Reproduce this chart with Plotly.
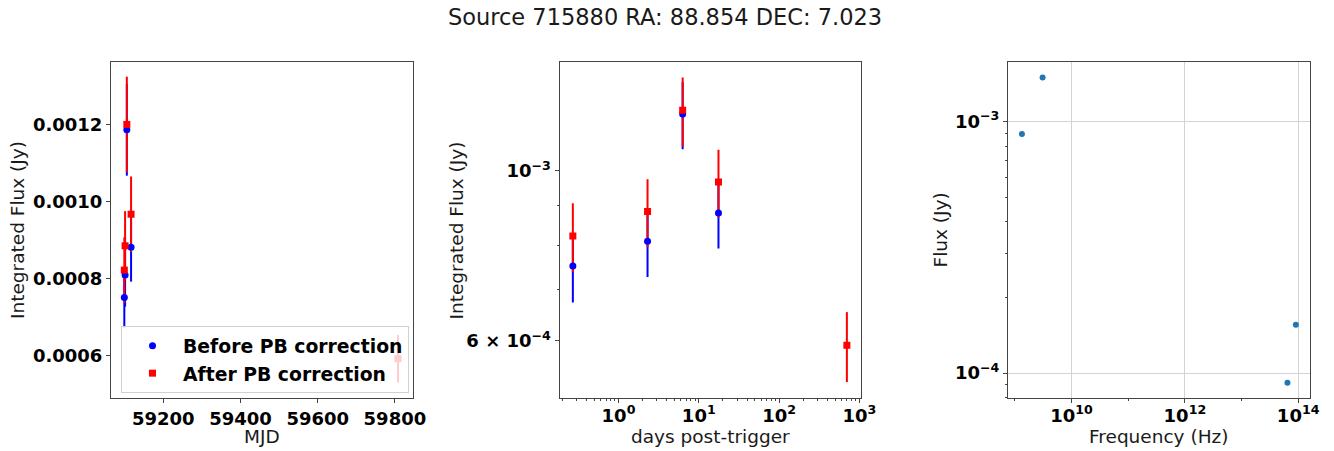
import plotly.graph_objects as go

# ---------------- data ----------------
title_text = "Source 715880 RA: 88.854 DEC: 7.023"

mjd_before = [59099.0, 59101.0, 59105.5, 59116.5]
days_before = [0.27, 2.30, 6.30, 17.6]
flux_before = [7.51e-4, 8.09e-4, 1.186e-3, 8.81e-4]
err_before = [7.8e-5, 8.2e-5, 1.19e-4, 8.9e-5]

mjd_after = [59099.0, 59101.0, 59105.5, 59116.5, 59808.0]
days_after = [0.27, 2.30, 6.30, 17.6, 700.0]
flux_after = [8.22e-4, 8.85e-4, 1.200e-3, 9.67e-4, 5.92e-4]
err_after = [8.5e-5, 9.0e-5, 1.24e-4, 9.8e-5, 6.2e-5]

freq_hz = [1.33e9, 3.08e9, 6.47e13, 9.1e13]
sed_flux = [8.93e-4, 1.50e-3, 9.15e-5, 1.556e-4]

mjd_ticks = [59200, 59400, 59600, 59800]
lin_flux_ticks = [0.0006, 0.0008, 0.0010, 0.0012]
days_ticks = [1, 10, 100, 1000]
days_ticktext = ["10<sup>0</sup>", "10<sup>1</sup>", "10<sup>2</sup>", "10<sup>3</sup>"]
log_flux_ticks = [6e-4, 1e-3]
log_flux_ticktext = ["6 × 10<sup>−4</sup>", "10<sup>−3</sup>"]
freq_ticks = [1e10, 1e12, 1e14]
freq_ticktext = ["10<sup>10</sup>", "10<sup>12</sup>", "10<sup>14</sup>"]
sed_ticks = [1e-4, 1e-3]
sed_ticktext = ["10<sup>−4</sup>", "10<sup>−3</sup>"]

label_before = "Before PB correction"
label_after = "After PB correction"

# ---------------- layout helpers ----------------
W, H = 1334, 451
FONT = "DejaVu Sans"
BLUE, RED, C0 = "#0000ff", "#ff0000", "#1f77b4"
SPINE = "#444444"


def px_x(p):
    return p / W


def px_y(p):
    return 1 - p / H


ydom = [px_y(398), px_y(62)]
tickfont = dict(family=FONT, size=18, color="black", weight="bold")


def axis(domain, anchor, **kw):
    d = dict(
        domain=domain,
        anchor=anchor,
        automargin=False,
        showline=True,
        mirror=True,
        linecolor=SPINE,
        linewidth=1,
        ticks="outside",
        ticklen=4,
        tickwidth=1,
        tickcolor=SPINE,
        tickfont=tickfont,
        showgrid=False,
        zeroline=False,
        tickmode="array",
    )
    d.update(kw)
    return d


def minor_log(decades_from, decades_to):
    vals = []
    for e in range(decades_from, decades_to + 1):
        for m in range(2, 10):
            vals.append(m * 10.0 ** e)
    return vals


fig = go.Figure()

# ---------- error bars (drawn first, below all markers) ----------
for xs, ys, es, col, xa, ya in [
    (mjd_before, flux_before, err_before, BLUE, "x", "y"),
    (mjd_after, flux_after, err_after, RED, "x", "y"),
    (days_before, flux_before, err_before, BLUE, "x2", "y2"),
    (days_after, flux_after, err_after, RED, "x2", "y2"),
]:
    fig.add_trace(go.Scatter(
        x=xs, y=ys, mode="markers", xaxis=xa, yaxis=ya,
        marker=dict(size=2, color=col, opacity=0),
        error_y=dict(type="data", array=es, visible=True, color=col,
                     thickness=2, width=0),
        showlegend=False, hoverinfo="skip",
    ))

# ---------- markers ----------
for xs, ys, col, sym, name, xa, ya, show, grp in [
    (mjd_before, flux_before, BLUE, "circle", label_before, "x", "y", True, "b"),
    (mjd_after, flux_after, RED, "square", label_after, "x", "y", True, "a"),
    (days_before, flux_before, BLUE, "circle", label_before, "x2", "y2", False, "b"),
    (days_after, flux_after, RED, "square", label_after, "x2", "y2", False, "a"),
]:
    fig.add_trace(go.Scatter(
        x=xs, y=ys, mode="markers", xaxis=xa, yaxis=ya, name=name,
        marker=dict(size=7, color=col, symbol=sym, line=dict(width=0)),
        showlegend=show, legendgroup=grp,
    ))

# ---------- panel 3 : SED ----------
fig.add_trace(go.Scatter(
    x=freq_hz, y=sed_flux, mode="markers", xaxis="x3", yaxis="y3",
    marker=dict(size=6, color=C0, line=dict(width=0)), showlegend=False,
))

fig.update_layout(
    template="none",
    width=W, height=H,
    margin=dict(l=0, r=0, t=0, b=0, autoexpand=False),
    paper_bgcolor="white", plot_bgcolor="white",
    font=dict(family=FONT, color="black"),
    title=dict(text=title_text, x=665 / W, xanchor="center",
               y=px_y(17), yanchor="middle",
               font=dict(family=FONT, size=22.5, color="#1a1a1a")),
    xaxis=axis([px_x(111), px_x(413)], "y",
               range=[59064.5, 59846.9],
               tickvals=mjd_ticks, ticktext=[str(v) for v in mjd_ticks]),
    yaxis=axis(ydom, "x",
               range=[0.00049, 0.001362],
               tickvals=lin_flux_ticks,
               ticktext=[f"{v:.4f}" for v in lin_flux_ticks]),
    xaxis2=axis([px_x(559.5), px_x(861)], "y2", type="log",
                range=[-0.735, 3.021],
                tickvals=days_ticks, ticktext=days_ticktext,
                ticklabelstandoff=-3,
                minor=dict(ticks="outside", ticklen=2, tickcolor=SPINE,
                           tickmode="array", tickvals=minor_log(-1, 2))),
    yaxis2=axis(ydom, "x2", type="log",
                range=[-3.2965, -2.858],
                tickvals=log_flux_ticks, ticktext=log_flux_ticktext,
                minor=dict(ticks="outside", ticklen=2, tickcolor=SPINE,
                           tickmode="array", tickvals=[7e-4, 8e-4, 9e-4])),
    xaxis3=axis([px_x(1008), px_x(1309.5)], "y3", type="log",
                range=[8.878, 14.2],
                tickvals=freq_ticks, ticktext=freq_ticktext,
                ticklabelstandoff=-3,
                showgrid=True, gridcolor="#d3d3d3", gridwidth=1,
                minor=dict(ticks="outside", ticklen=2, tickcolor=SPINE,
                           tickmode="array", tickvals=[1e9, 1e11, 1e13])),
    yaxis3=axis(ydom, "x3", type="log",
                range=[-4.0995, -2.7624],
                tickvals=sed_ticks, ticktext=sed_ticktext,
                showgrid=True, gridcolor="#d3d3d3", gridwidth=1,
                minor=dict(ticks="outside", ticklen=2, tickcolor=SPINE,
                           tickmode="array",
                           tickvals=[8e-5, 9e-5] + minor_log(-4, -4))),
    legend=dict(
        x=px_x(121), y=px_y(326), xanchor="left", yanchor="top",
        bgcolor="rgba(255,255,255,0.8)", bordercolor="#d0d0d0", borderwidth=1,
        font=dict(family=FONT, size=18.8, color="black", weight="bold"),
        traceorder="grouped", tracegroupgap=0, itemwidth=51,
    ),
)

title_font = dict(family=FONT, size=18.5, color="#1a1a1a")
for text, x, y, ang in [
    ("Integrated Flux (Jy)", 17.5, 230.5, -90),
    ("Integrated Flux (Jy)", 456, 230.5, -90),
    ("Flux (Jy)", 940, 230.5, -90),
    ("MJD", 262, 436, 0),
    ("days post-trigger", 710, 436, 0),
    ("Frequency (Hz)", 1158.5, 436, 0),
]:
    fig.add_annotation(text=text, x=px_x(x), y=px_y(y), xref="paper", yref="paper",
                       xanchor="center", yanchor="middle", textangle=ang,
                       showarrow=False, font=title_font)

fig.write_html("out.html")
